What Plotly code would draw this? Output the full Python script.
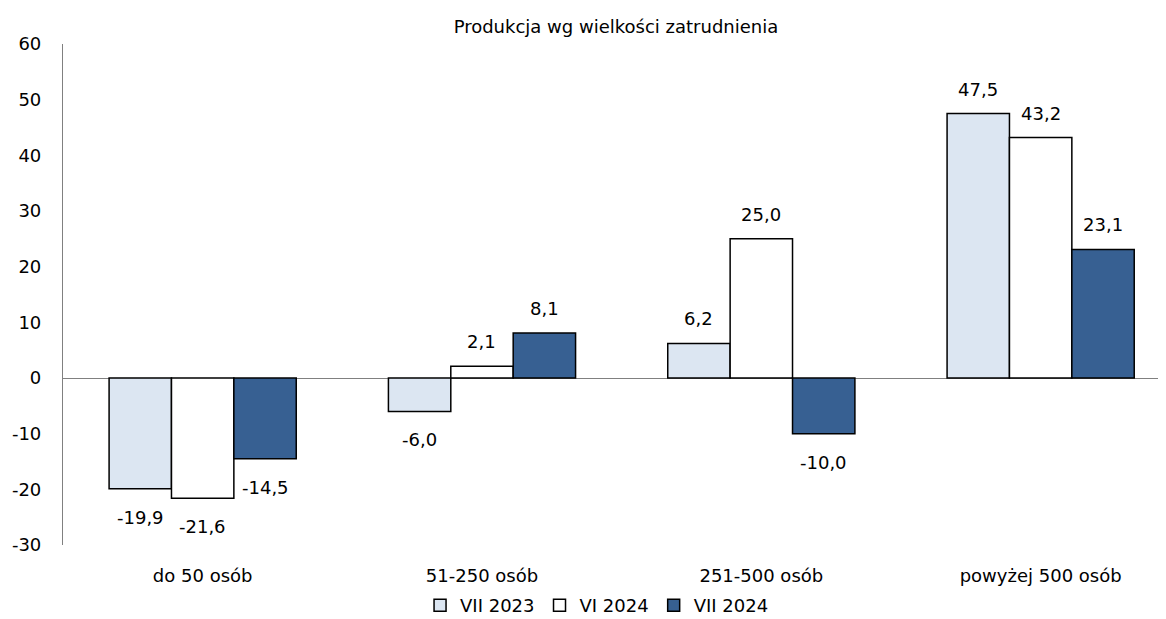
import plotly.graph_objects as go

categories = ["do 50 osób", "51-250 osób", "251-500 osób", "powyżej 500 osób"]
series_names = ["VII 2023", "VI 2024", "VII 2024"]
vii_2023 = [-19.9, -6.0, 6.2, 47.5]
vi_2024 = [-21.6, 2.1, 25.0, 43.2]
vii_2024 = [-14.5, 8.1, -10.0, 23.1]
y_ticks = [-30, -20, -10, 0, 10, 20, 30, 40, 50, 60]

colors = ["#DCE6F2", "#FFFFFF", "#376092"]
FONT = "DejaVu Sans"
BARGAP = 0.33


def fmt(v):
    return f"{v:.1f}".replace(".", ",")


fig = go.Figure()
all_series = [vii_2023, vi_2024, vii_2024]
for name, vals, col in zip(series_names, all_series, colors):
    fig.add_trace(go.Bar(
        x=categories, y=vals, name=name,
        marker=dict(color=col, line=dict(color="#000000", width=1.5)),
        hoverinfo="x+y+name",
    ))

# value labels
n = len(all_series)
bw = (1 - BARGAP) / n
annotations = []
for si, vals in enumerate(all_series):
    off = (si - (n - 1) / 2) * bw
    for ci, v in enumerate(vals):
        annotations.append(dict(
            x=ci + off, y=v, xref="x", yref="y", text=fmt(v), showarrow=False,
            yanchor="bottom" if v >= 0 else "top",
            yshift=12 if v >= 0 else -16,
            font=dict(family=FONT, size=18, color="#000000"),
        ))

fig.update_layout(
    width=1158, height=611,
    margin=dict(l=55, r=3, t=36, b=74, autoexpand=False),
    paper_bgcolor="white", plot_bgcolor="white",
    barmode="group", bargap=BARGAP, bargroupgap=0,
    font=dict(family=FONT, size=18, color="#000000"),
    title=dict(text="Produkcja wg wielkości zatrudnienia", x=0.525, xanchor="center",
               y=0.969, yanchor="middle", font=dict(family=FONT, size=18, color="#000000")),
    showlegend=True,
    legend=dict(orientation="h", x=0.4855, xanchor="center", y=-0.084, yanchor="top",
                bgcolor="rgba(0,0,0,0)",
                font=dict(family=FONT, size=18), itemwidth=30),
    xaxis=dict(range=[-0.5, 3.438], showline=False, showgrid=False, ticks="",
               automargin=False, ticklabelstandoff=18,
               tickfont=dict(family=FONT, size=18)),
    yaxis=dict(range=[-30, 60], tickvals=y_ticks, ticktext=[str(t) for t in y_ticks],
               showgrid=False, showline=True, automargin=False,
               linecolor="#808080", linewidth=1.2, zeroline=True, zerolinecolor="#808080",
               zerolinewidth=1.2, ticks="", ticklabelstandoff=17,
               tickfont=dict(family=FONT, size=18)),
    annotations=annotations,
)

fig.write_html("out.html")
